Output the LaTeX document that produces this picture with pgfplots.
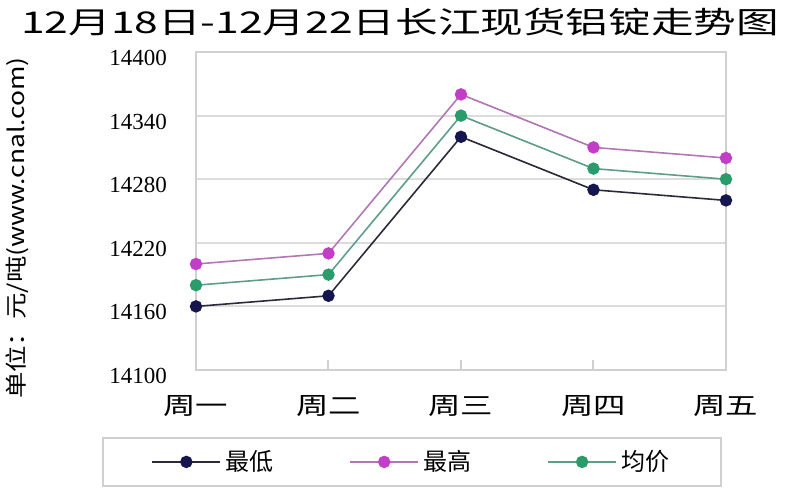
\documentclass[border=0pt]{standalone}
\usepackage{fontspec}
\setmainfont{Noto Sans CJK SC}
\newfontfamily\numfont{Liberation Serif}
\usepackage{graphicx}
\usepackage{pgfplots}
\pgfplotsset{compat=1.18}
\definecolor{lowc}{HTML}{16164F}
\definecolor{lowline}{HTML}{2A2A3A}
\definecolor{highc}{HTML}{C23EC6}
\definecolor{highline}{HTML}{B276B4}
\definecolor{avgc}{HTML}{2A9C6C}
\definecolor{avgline}{HTML}{5E9E88}
\definecolor{gridc}{HTML}{DCDCDC}
\definecolor{axisc}{HTML}{D0D0D0}
\newcommand{\wx}[1]{\scalebox{1.35}[1]{#1}}
\begin{document}
\begin{tikzpicture}
\path[use as bounding box] (0,0) rectangle (400pt,250pt);
\node at (200pt,239pt) {\fontsize{15pt}{15pt}\selectfont\scalebox{1.42}[1]{12月18日-12月22日长江现货铝锭走势图}};
\node[rotate=90] at (8.5pt,136pt) {\fontsize{11pt}{11pt}\selectfont\scalebox{1.2}[1]{单位：元/吨(www.cnal.com)}};
\begin{axis}[
  at={(98pt,65pt)}, anchor=south west,
  scale only axis, width=265pt, height=159pt,
  xmin=0, xmax=4, ymin=14100, ymax=14400,
  xtick={0,1,2,3,4},
  xticklabels={\wx{周一},\wx{周二},\wx{周三},\wx{周四},\wx{周五}},
  ytick={14100,14160,14220,14280,14340,14400},
  scaled y ticks=false,
  /pgf/number format/.cd, 1000 sep={}, assume math mode=true, /pgfplots/.cd,
  yticklabel style={font=\numfont\fontsize{11.5pt}{11.5pt}\selectfont, xshift=-11pt, yshift=-3pt},
  xticklabel style={font=\fontsize{12pt}{12pt}\selectfont, yshift=-9pt},
  ymajorgrids, grid style={color=gridc, line width=1pt},
  axis line style={color=axisc, line width=1pt},
  tick align=inside, xtick pos=bottom, ytick pos=left,
  xtick style={color=axisc, line width=1pt},
  ytick style={draw=none},
  major tick length=5pt,
  clip=false,
  legend columns=3,
  legend style={at={(0.408,-0.289)}, anchor=center, draw=axisc, line width=1pt,
    font=\fontsize{12pt}{12pt}\selectfont, inner xsep=24pt, inner ysep=4pt,
    /tikz/every even column/.append style={column sep=36pt}},
  legend image code/.code={\draw[mark repeat=2,mark phase=2,line width=0.8pt] plot coordinates {(0cm,0cm) (0.6cm,0cm) (1.2cm,0cm)};},
]
\addplot[color=lowline, line width=0.8pt, mark=*, mark size=2.7pt, mark options={fill=lowc, draw=lowc}]
  coordinates {(0,14160) (1,14170) (2,14320) (3,14270) (4,14260)};
\addlegendentry{最低}
\addplot[color=highline, line width=0.8pt, mark=*, mark size=2.7pt, mark options={fill=highc, draw=highc}]
  coordinates {(0,14200) (1,14210) (2,14360) (3,14310) (4,14300)};
\addlegendentry{最高}
\addplot[color=avgline, line width=0.8pt, mark=*, mark size=2.7pt, mark options={fill=avgc, draw=avgc}]
  coordinates {(0,14180) (1,14190) (2,14340) (3,14290) (4,14280)};
\addlegendentry{均价}
\end{axis}
\end{tikzpicture}
\end{document}
